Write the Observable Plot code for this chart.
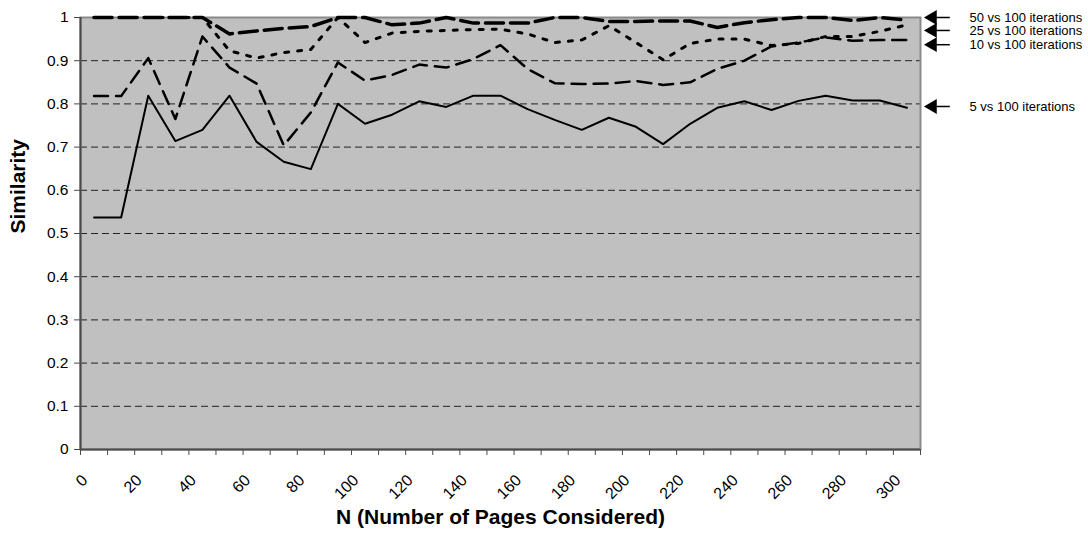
<!DOCTYPE html>
<html>
<head>
<meta charset="utf-8">
<script src="https://cdn.jsdelivr.net/npm/d3@7"></script>
<script src="https://cdn.jsdelivr.net/npm/@observablehq/plot@0.6"></script>
<style>
  html, body { margin: 0; padding: 0; background: #ffffff; }
  #chart { width: 1088px; height: 542px; }
</style>
</head>
<body>
<div id="chart"></div>
<script>
// N (number of pages considered) categories
const categories = [0,10,20,30,40,50,60,70,80,90,100,110,120,130,140,150,160,170,180,190,200,210,220,230,240,250,260,270,280,290,300];

// Similarity series
const sim5  = [0.537,0.537,0.819,0.714,0.740,0.819,0.712,0.666,0.649,0.800,0.754,0.775,0.806,0.793,0.819,0.819,0.788,0.763,0.740,0.768,0.747,0.707,0.754,0.791,0.806,0.786,0.807,0.819,0.808,0.808,0.791];
const sim10 = [0.818,0.818,0.906,0.765,0.956,0.884,0.847,0.704,0.780,0.896,0.854,0.867,0.891,0.884,0.904,0.936,0.881,0.848,0.846,0.847,0.853,0.844,0.850,0.881,0.900,0.933,0.942,0.954,0.946,0.948,0.948];
const sim25 = [1.000,1.000,1.000,1.000,1.000,0.923,0.906,0.919,0.926,1.000,0.942,0.964,0.968,0.970,0.972,0.973,0.962,0.942,0.948,0.981,0.942,0.902,0.940,0.950,0.950,0.935,0.940,0.956,0.956,0.968,0.983];
const sim50 = [1.000,1.000,1.000,1.000,1.000,0.962,0.969,0.975,0.979,1.000,1.000,0.983,0.987,1.000,0.987,0.987,0.987,1.000,1.000,0.991,0.991,0.992,0.992,0.977,0.988,0.995,1.000,1.000,0.993,1.000,0.994];

// Axis ticks
const yTicks = [0,0.1,0.2,0.3,0.4,0.5,0.6,0.7,0.8,0.9,1];
const gridTicks = [0.1,0.2,0.3,0.4,0.5,0.6,0.7,0.8,0.9];
const xLabels = [0,20,40,60,80,100,120,140,160,180,200,220,240,260,280,300];

// Annotation labels (right side) and the similarity level each points at
const seriesNames = ["5 vs 100 iterations","10 vs 100 iterations","25 vs 100 iterations","50 vs 100 iterations"];
const labelLevels = [0.794, 0.937, 0.970, 1.000];

const yTitle = "Similarity";
const xTitle = "N (Number of Pages Considered)";

// ---- build tables from the arrays ----
const toRows = (vals) => categories.map((c, i) => ({N: c, v: vals[i]}));
const boundaries = categories.map(c => c - 5).concat([categories[categories.length - 1] + 5]);
const legend = seriesNames.map((name, i) => ({name, level: labelLevels[i]}));
const xMin = categories[0] - 5, xMax = categories[categories.length - 1] + 5;

const font = "'Liberation Sans', Arial, Helvetica, sans-serif";

const chart = Plot.plot({
  width: 1088,
  height: 542,
  marginLeft: 80,
  marginRight: 168,
  marginTop: 17,
  marginBottom: 93,
  style: {fontFamily: font, background: "#ffffff", color: "#000"},
  x: {type: "linear", domain: [xMin, xMax]},
  y: {type: "linear", domain: [0, 1]},
  marks: [
    Plot.frame({fill: "#c0c0c0", stroke: null}),
    Plot.gridY(gridTicks, {stroke: "#222", strokeOpacity: 1, strokeWidth: 1, strokeDasharray: "7,4"}),
    Plot.frame({stroke: "#8a8a8a", strokeWidth: 2}),
    Plot.ruleX([xMin], {stroke: "#4a4a4a", strokeWidth: 2}),
    Plot.ruleY([0], {stroke: "#4a4a4a", strokeWidth: 2}),
    Plot.axisY({ticks: yTicks, tickSize: 6, tickPadding: 6, fontSize: 15.5, stroke: "#4a4a4a", tickFormat: d => d3.format("~g")(d), label: null, fill: "#000"}),
    Plot.axisX({ticks: boundaries, tickSize: 6, tickFormat: () => "", stroke: "#4a4a4a", label: null}),
    Plot.axisX({ticks: xLabels, tickSize: 0, tickPadding: 12, tickRotate: -45, fontSize: 16, label: null, fill: "#000", dx: -9, dy: 16}),
    Plot.line(toRows(sim5),  {x: "N", y: "v", stroke: "#000", strokeWidth: 2}),
    Plot.line(toRows(sim10), {x: "N", y: "v", stroke: "#000", strokeWidth: 2.5, strokeDasharray: "14,8"}),
    Plot.line(toRows(sim25), {x: "N", y: "v", stroke: "#000", strokeWidth: 3, strokeDasharray: "4,9"}),
    Plot.line(toRows(sim50), {x: "N", y: "v", stroke: "#000", strokeWidth: 3.5, strokeDasharray: "18,7"}),
    // annotations on the right
    Plot.ruleY(legend, {y: "level", x1: xMax + 3, x2: xMax + 11, stroke: "#000", strokeWidth: 1.5}),
    Plot.dot(legend, {y: "level", frameAnchor: "right", dx: 12, symbol: "triangle", r: 5.5, rotate: -90, fill: "#000", stroke: null}),
    Plot.text(legend, {y: "level", text: "name", frameAnchor: "right", dx: 49, textAnchor: "start", fontSize: 13, fill: "#000"}),
    // titles
    Plot.text([yTitle], {frameAnchor: "left", rotate: -90, dx: -62, fontSize: 21, fontWeight: "bold", fill: "#000"}),
    Plot.text([xTitle], {frameAnchor: "bottom", dy: 74, fontSize: 21, fontWeight: "bold", fill: "#000"})
  ]
});

document.getElementById("chart").appendChild(chart);
</script>
</body>
</html>
